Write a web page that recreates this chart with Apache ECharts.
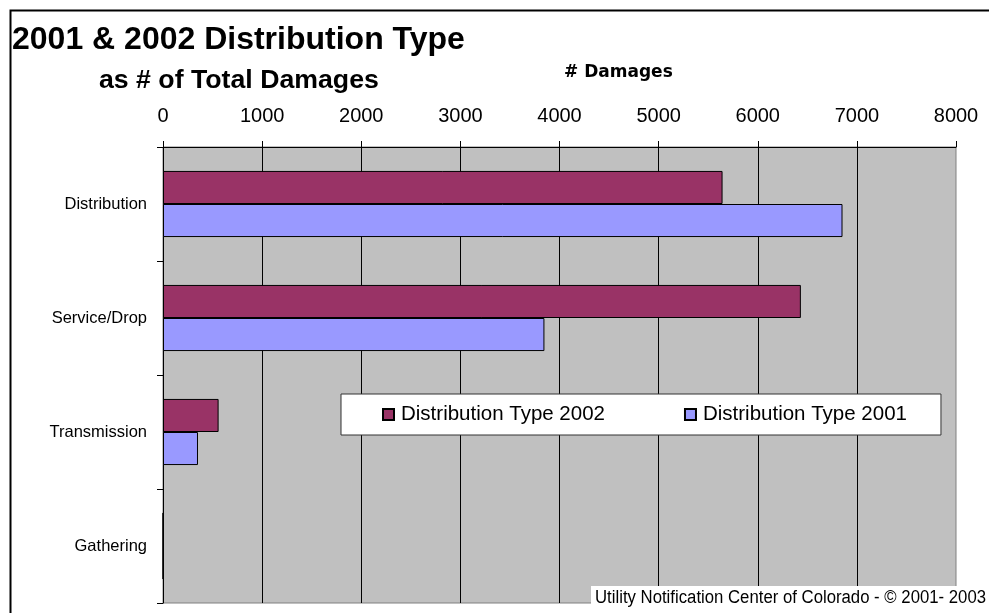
<!DOCTYPE html>
<html>
<head>
<meta charset="utf-8">
<script src="https://cdn.jsdelivr.net/npm/echarts@6/dist/echarts.min.js"></script>
<style>
html,body{margin:0;padding:0;background:#fff;}
#c{width:989px;height:613px;}
</style>
</head>
<body>
<div id="c"></div>
<script>
const categories = ['Distribution', 'Service/Drop', 'Transmission', 'Gathering'];
const seriesNames = ['Distribution Type 2002', 'Distribution Type 2001'];
const values2002 = [5645, 6435, 561, 0];
const values2001 = [6855, 3848, 353, 0];
const xTicks = { min: 0, max: 8000, interval: 1000 };

const FONT = 'Liberation Sans, Arial, sans-serif';
const chart = echarts.init(document.getElementById('c'), null, { renderer: 'canvas' });
chart.setOption({
  animation: false,
  backgroundColor: '#fff',
  textStyle: { fontFamily: FONT, color: '#000' },
  title: [
    { text: '2001 & 2002 Distribution Type', left: 12, top: 24, padding: 0,
      textStyle: { fontFamily: FONT, fontSize: 32, fontWeight: 'bold', color: '#000' } },
    { text: 'as # of Total Damages', left: 99, top: 67, padding: 0,
      textStyle: { fontFamily: FONT, fontSize: 26.7, fontWeight: 'bold', color: '#000' } },
    { text: '# Damages', left: 564, top: 64, padding: 0,
      textStyle: { fontFamily: 'DejaVu Sans, sans-serif', fontSize: 17, fontWeight: 'bold', color: '#000' } }
  ],
  graphic: [
    { type: 'rect', left: 8, top: 8, shape: { width: 1000, height: 700 }, silent: true, z: 100,
      style: { fill: 'none', stroke: '#000', lineWidth: 2 } },
    { type: 'rect', left: 591, top: 586, shape: { width: 400, height: 30 }, silent: true, z: 99,
      style: { fill: '#fff' } },
    { type: 'text', x: 595, y: 589, scaleX: 0.93, z: 100,
      style: { text: 'Utility Notification Center of Colorado - \u00a9 2001- 2003',
        font: '18px "Liberation Sans", Arial, sans-serif', fill: '#000' } }
  ],
  legend: {
    data: seriesNames,
    left: 341, top: 394,
    orient: 'horizontal',
    backgroundColor: '#fff',
    borderColor: '#333',
    borderWidth: 1,
    padding: [10, 34, 10, 41],
    itemWidth: 11, itemHeight: 11, itemGap: 79,
    icon: 'rect',
    textStyle: { fontFamily: FONT, fontSize: 20.5, color: '#000', padding: [0, 0, 0, 2] }
  },
  grid: {
    left: 163, right: 33, top: 147, bottom: 10,
    show: true, backgroundColor: '#C0C0C0', borderColor: '#808080', borderWidth: 1
  },
  xAxis: {
    type: 'value', position: 'top',
    min: xTicks.min, max: xTicks.max, interval: xTicks.interval,
    axisLine: { show: true, lineStyle: { color: '#000', width: 1 } },
    axisTick: { show: true, length: 6, lineStyle: { color: '#000' } },
    axisLabel: { fontFamily: FONT, fontSize: 20, color: '#000', margin: 21,
      formatter: function (v) { return String(v); } },
    splitLine: { show: true, showMaxLine: false, lineStyle: { color: '#000', width: 1 } }
  },
  yAxis: {
    type: 'category', data: categories, inverse: true,
    axisLine: { show: true, lineStyle: { color: '#000', width: 1 } },
    axisTick: { show: true, length: 6, lineStyle: { color: '#000' } },
    axisLabel: { fontFamily: FONT, fontSize: 16.5, color: '#000', margin: 16 }
  },
  series: [
    { name: seriesNames[0], type: 'bar', data: values2002, barGap: '0%', barCategoryGap: '42%',
      itemStyle: { color: '#993366', borderColor: '#000', borderWidth: 1 } },
    { name: seriesNames[1], type: 'bar', data: values2001, barGap: '0%', barCategoryGap: '42%',
      itemStyle: { color: '#9999FF', borderColor: '#000', borderWidth: 1 } }
  ]
});
</script>
</body>
</html>
